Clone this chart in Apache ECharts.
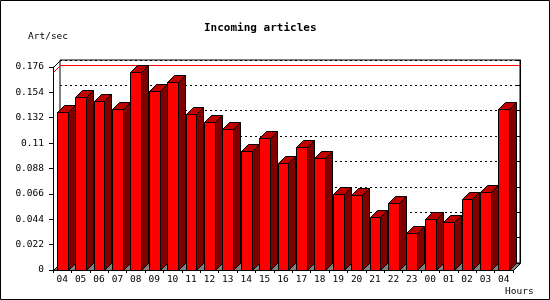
<!DOCTYPE html>
<html>
<head>
<meta charset="utf-8">
<script src="https://cdn.jsdelivr.net/npm/echarts@6/dist/echarts.min.js"></script>
<style>
html,body{margin:0;padding:0;background:#fff;}
#chart{width:550px;height:300px;}
</style>
</head>
<body>
<div id="chart"></div>
<script>
const hours = ['04','05','06','07','08','09','10','11','12','13','14','15','16','17','18','19','20','21','22','23','00','01','02','03','04'];
const artPerSec = [0.1374,0.1504,0.1463,0.1394,0.1714,0.1550,0.1628,0.1350,0.1280,0.1220,0.1030,0.1143,0.0932,0.1070,0.0975,0.0658,0.0646,0.0456,0.0577,0.0320,0.0439,0.0413,0.0612,0.0673,0.1400];
const yTickLabels = ['0','0.022','0.044','0.066','0.088','0.11','0.132','0.154','0.176'];
const yMin = 0, yMax = 0.176, yStep = 0.022;
const titleText = 'Incoming articles';
const yUnit = 'Art/sec';
const xUnit = 'Hours';

const DEPTH = 7;
const FONT = 'DejaVu Sans Mono';
const maxVal = Math.max.apply(null, artPerSec);
const px = v => Math.round(v) + 0.5;

const chart = echarts.init(document.getElementById('chart'), null, {renderer: 'canvas'});

function renderBar(params, api) {
  const i = api.value(0);
  const v = api.value(1);
  const top = api.coord([i, v]);
  const base = api.coord([i, 0])[1];
  const bw = api.size([1, 0])[0] * 0.58;
  const x0 = px(top[0] - bw / 2), x1 = px(top[0] + bw / 2);
  const y = px(top[1]), b = px(base);
  const d = DEPTH;
  const st = {stroke: '#000', lineWidth: 1};
  return {
    type: 'group',
    children: [
      {type: 'polygon', shape: {points: [[x1, y], [x1 + d, y - d], [x1 + d, b - d], [x1, b]]},
       style: Object.assign({fill: '#800000'}, st)},
      {type: 'polygon', shape: {points: [[x0, y], [x1, y], [x1 + d, y - d], [x0 + d, y - d]]},
       style: Object.assign({fill: '#c00000'}, st)},
      {type: 'rect', shape: {x: x0, y: y, width: x1 - x0, height: b - y},
       style: Object.assign({fill: '#ff0000'}, st)}
    ]
  };
}

function renderFrame(params, api) {
  const cs = params.coordSys;
  const d = DEPTH;
  const l = px(cs.x), r = px(cs.x + cs.width), t = px(cs.y), bt = px(cs.y + cs.height);
  const my = px(api.coord([0, api.value(1)])[1]);
  return {
    type: 'group',
    children: [
      {type: 'line', shape: {x1: l, y1: my, x2: l + d, y2: my - d},
       style: {stroke: '#ff0000', lineWidth: 1}},
      {type: 'line', shape: {x1: l + d, y1: my - d, x2: r + d, y2: my - d},
       style: {stroke: '#ff0000', lineWidth: 1}},
      {type: 'line', shape: {x1: l, y1: t, x2: l + d, y2: t - d},
       style: {stroke: '#000', lineWidth: 1}},
      {type: 'polygon', shape: {points: [[l, bt], [r, bt], [r + d, bt - d], [l + d, bt - d]]},
       style: {fill: '#808080', stroke: '#000', lineWidth: 1}}
    ]
  };
}

const option = {
  animation: false,
  backgroundColor: '#fff',
  textStyle: {fontFamily: FONT},
  title: [
    {text: titleText, left: 204, top: 22.5, padding: 0,
     textStyle: {fontFamily: FONT, fontSize: 11, fontWeight: 'bold', color: '#000'}},
    {text: yUnit, left: 28, top: 32, padding: 0,
     textStyle: {fontFamily: FONT, fontSize: 9.5, fontWeight: 'normal', color: '#000'}},
    {text: xUnit, left: 505, top: 287, padding: 0,
     textStyle: {fontFamily: FONT, fontSize: 9.5, fontWeight: 'normal', color: '#000'}}
  ],
  graphic: [
    {type: 'rect', shape: {x: 0.5, y: 0.5, width: 549, height: 299},
     style: {fill: null, stroke: '#000', lineWidth: 1}, z: 100}
  ],
  grid: [
    {left: 53, right: 37, top: 67, bottom: 30, containLabel: false},
    {left: 60, right: 30, top: 60, bottom: 37, containLabel: false, show: true,
     backgroundColor: '#fff', borderColor: '#000', borderWidth: 1}
  ],
  xAxis: [
    {type: 'category', gridIndex: 0, data: hours, boundaryGap: true,
     axisLine: {show: true, lineStyle: {color: '#000', width: 1}},
     axisTick: {show: true, length: 3, lineStyle: {color: '#000'}},
     axisLabel: {show: true, interval: 0, margin: 5, color: '#000', fontFamily: FONT, fontSize: 9.5},
     splitLine: {show: false}},
    {type: 'category', gridIndex: 1, data: hours, show: false}
  ],
  yAxis: [
    {type: 'value', gridIndex: 0, min: yMin, max: yMax, interval: yStep,
     axisLine: {show: true, lineStyle: {color: '#000', width: 1}},
     axisTick: {show: true, length: 4, lineStyle: {color: '#000'}},
     axisLabel: {show: true, margin: 9, color: '#000', fontFamily: FONT, fontSize: 9.5,
       formatter: (v, idx) => yTickLabels[idx] !== undefined ? yTickLabels[idx] : String(v)},
     splitLine: {show: false}},
    {type: 'value', gridIndex: 1, min: yMin, max: yMax, interval: yStep, position: 'right',
     axisLine: {show: true, lineStyle: {color: '#000', width: 1}},
     axisTick: {show: true, inside: true, length: 3, lineStyle: {color: '#000'}},
     axisLabel: {show: false},
     splitLine: {show: true, lineStyle: {color: '#000', width: 1, type: [2, 3]}}}
  ],
  series: [
    {type: 'custom', xAxisIndex: 0, yAxisIndex: 0, clip: false, silent: true,
     renderItem: renderFrame, data: [[0, maxVal]], z: 5},
    {type: 'custom', xAxisIndex: 0, yAxisIndex: 0, clip: false, silent: true,
     renderItem: renderBar, encode: {x: 0, y: 1},
     data: artPerSec.map((v, i) => [i, v]), z: 6}
  ]
};
chart.setOption(option);
</script>
</body>
</html>
